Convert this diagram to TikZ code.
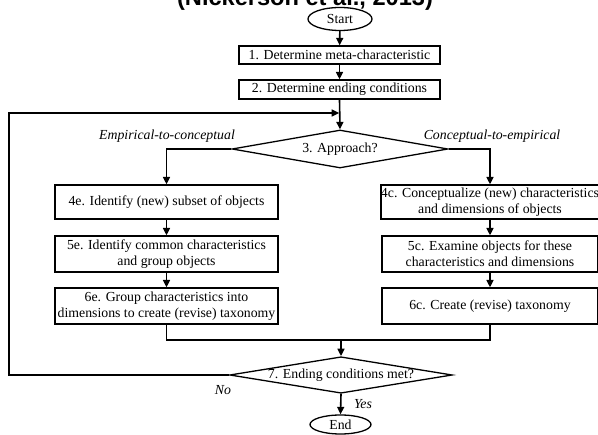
\documentclass[tikz,border=0pt]{standalone}
\usepackage{fontspec}
\setmainfont{Liberation Serif}
\newfontfamily\titlefont{Liberation Sans}
\usetikzlibrary{shapes.geometric,arrows.meta}
\begin{document}
\begin{tikzpicture}[x=1pt,y=-1pt,
  every node/.style={font=\fontsize{13.8}{15.6}\selectfont},
  stepbox/.style={draw,line width=1.3pt,rectangle,inner sep=0pt,align=center},
  termbox/.style={draw,line width=1.3pt,ellipse,inner sep=0pt},
  decbox/.style={draw,line width=1.3pt,diamond,inner sep=0pt},
  conn/.style={line width=1.6pt},
  arr/.style={conn,-{Triangle[width=7pt,length=7.5pt]}},
  lab/.style={font=\fontsize{13.8}{15.6}\selectfont\itshape}]
\useasboundingbox (0,0) rectangle (598,435);
\fill[white] (0,0) rectangle (598,435);
\node[anchor=base,font=\titlefont\bfseries\fontsize{23.6}{26}\selectfont] (title) at (305,6) {(Nickerson et al., 2013)};
\node[termbox,minimum width=64pt,minimum height=23pt] (start) at (340,19) {Start};
\node[stepbox,minimum width=201pt,minimum height=18pt] (b1) at (339.5,55) {1. Determine meta-characteristic};
\node[stepbox,minimum width=201pt,minimum height=19pt] (b2) at (339.5,89.5) {2. Determine ending conditions};
\node[decbox,aspect=5.7,minimum width=216pt,minimum height=38pt] (d3) at (340,149) {3. Approach?};
\node[stepbox,minimum width=223pt,minimum height=34pt] (e4) at (166.5,202) {4e. Identify (new) subset of objects};
\node[stepbox,minimum width=223pt,minimum height=36pt] (e5) at (166.5,254) {5e. Identify common characteristics\\and group objects};
\node[stepbox,minimum width=223pt,minimum height=36pt] (e6) at (166.5,306) {6e. Group characteristics into\\dimensions to create (revise) taxonomy};
\node[stepbox,minimum width=216pt,minimum height=34pt] (c4) at (490,202) {4c. Conceptualize (new) characteristics\\and dimensions of objects};
\node[stepbox,minimum width=216pt,minimum height=36pt] (c5) at (490,254) {5c. Examine objects for these\\characteristics and dimensions};
\node[stepbox,minimum width=216pt,minimum height=36pt] (c6) at (490,306) {6c. Create (revise) taxonomy};
\node[decbox,aspect=6.1,minimum width=220pt,minimum height=36pt] (d7) at (341,375) {7. Ending conditions met?};
\node[termbox,minimum width=61pt,minimum height=19pt] (end) at (340.5,424.5) {End};
\node[lab] (l1) at (167,136) {Empirical-to-conceptual};
\node[lab] (l2) at (492,136) {Conceptual-to-empirical};
\node[lab] (l3) at (223,390) {No};
\node[lab] (l4) at (363,404) {Yes};
\coordinate (j) at (341,340);
\coordinate (lb) at (9,375);
\coordinate (lt) at (9,113);
\coordinate (m) at (340,113);
\draw[arr] (start) -- (b1);
\draw[arr] (b1) -- (b2);
\draw[arr] (b2.south) -- (d3.north);
\draw[arr] (d3.west) -| (e4.north);
\draw[arr] (d3.east) -| (c4.north);
\draw[arr] (e4) -- (e5);
\draw[arr] (e5) -- (e6);
\draw[arr] (c4) -- (c5);
\draw[arr] (c5) -- (c6);
\draw[conn] (e6.south) |- (j) -| (c6.south);
\draw[arr] (j) -- (d7.north);
\draw[arr,shorten >=0.8pt] (d7.west) -- (lb) -- (lt) -- (m);
\draw[arr] (d7.south) -- (end.north);
\end{tikzpicture}
\end{document}
